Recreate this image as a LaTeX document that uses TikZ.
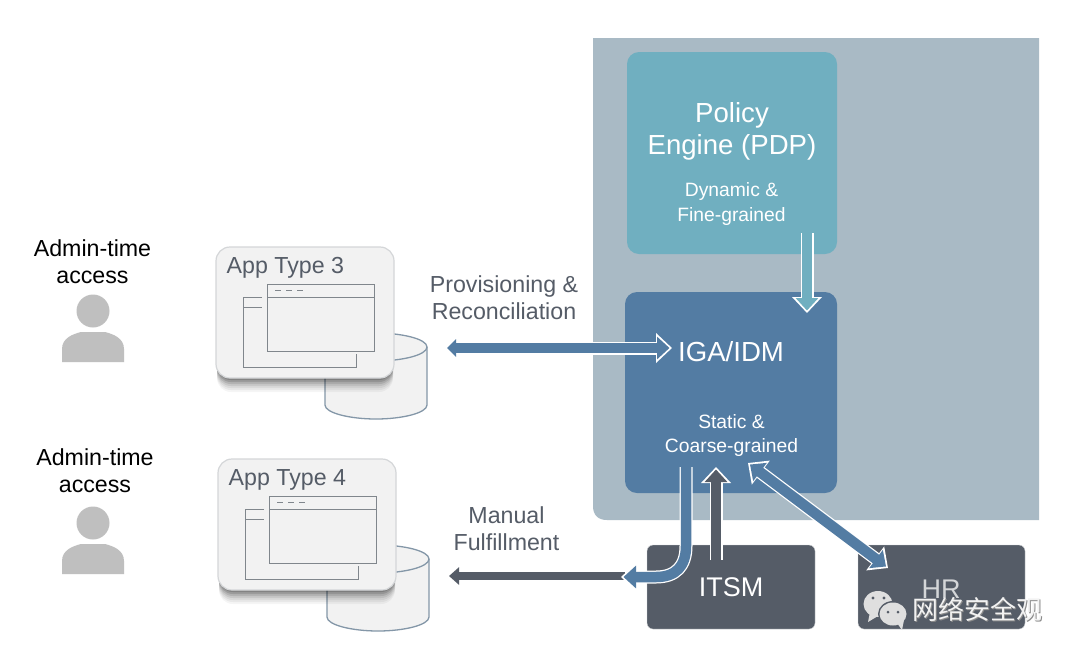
\documentclass[tikz,border=0pt]{standalone}
\usepackage{fontspec}
\setmainfont{Liberation Sans}
\newfontfamily\cjkwm{Noto Sans CJK SC}
\usetikzlibrary{arrows.meta}
\definecolor{panelgrey}{HTML}{A9BAC5}
\definecolor{pdpteal}{HTML}{70AFC0}
\definecolor{igablue}{HTML}{537CA3}
\definecolor{slate}{HTML}{555C67}
\definecolor{cardfill}{HTML}{F2F2F2}
\definecolor{cardline}{HTML}{D4D6D8}
\definecolor{wireline}{HTML}{80868C}
\definecolor{cylline}{HTML}{8497A8}
\definecolor{persongrey}{HTML}{BFBFBF}
\tikzset{
  box/.style={rectangle,rounded corners=#1,inner sep=0pt,anchor=north west,outer sep=0pt},
  box/.default=12pt,
  halo/.style={white,line width=13pt},
  core/.style={line width=10.5pt,shorten >=2.5pt},
  corer/.style={line width=10.5pt,shorten >=2.5pt,shorten <=2.5pt},
  lbl/.style={font=\fontsize{23.2}{27}\selectfont,align=center,inner sep=0pt},
  sublbl/.style={font=\fontsize{19.3}{24.5}\selectfont,align=center,inner sep=0pt,text=white},
  title/.style={font=\fontsize{27.6}{32}\selectfont,align=center,inner sep=0pt,text=white},
  wire/.style={draw=wireline,line width=1pt},
  bighead/.style={-{Triangle[length=16pt,width=29pt]}},
  smallhead/.style={-{Triangle[length=12.5pt,width=22pt]}},
}
\newcommand{\person}[2]{%
  \fill[persongrey] (#1,#2) circle[radius=16.5pt];
  \fill[persongrey] (#1-31,#2+51) -- (#1-31,#2+38)
    .. controls (#1-31,#2+27) and (#1-20,#2+23) .. (#1-12,#2+21)
    -- (#1+12,#2+21)
    .. controls (#1+20,#2+23) and (#1+31,#2+27) .. (#1+31,#2+38)
    -- (#1+31,#2+51) -- cycle;}
\newcommand{\appcard}[3]{%
  \begin{scope}[shift={(#1,#2)}]
    % cylinder
    \path[fill=cardfill,draw=cylline,line width=1.3pt]
      (325,347) -- (325,405) .. controls (325,413) and (350,419) .. (376,419)
      .. controls (402,419) and (427,413) .. (427,405) -- (427,347)
      .. controls (427,339) and (402,333) .. (376,333)
      .. controls (350,333) and (325,339) .. (325,347) -- cycle;
    \draw[cylline,line width=1.3pt] (427,347) .. controls (427,355) and (402,361) .. (376,361);
    % shadow
    \foreach \o/\a in {14/.04,12/.05,10/.06,8/.08,6/.1,4/.13,2/.15}
      \fill[black,opacity=\a,rounded corners=14pt] (217,247+\o) rectangle (393,378+\o);
    % card
    \path[box=14pt,fill=cardfill,draw=cardline,line width=1.2pt] (216,247) rectangle (394,378);
    % wire windows
    \draw[wire] (262,297) -- (243,297) -- (243,367) -- (356,367) -- (356,354);
    \draw[wire] (243,307) -- (262,307);
    \draw[wire] (267,284) rectangle (374,351);
    \draw[wire] (267,297) -- (374,297);
    \draw[wire,dash pattern=on 6pt off 5pt] (275,290) -- (307,290);
    \node[lbl,text=slate,anchor=west] (#3) at (226.5,268) {App Type #3};
  \end{scope}}
\begin{document}
\begin{tikzpicture}[x=1pt,y=-1pt]
\useasboundingbox (0,0) rectangle (1076,657);
\fill[white] (0,0) rectangle (1076,657);
% big panel
\fill[panelgrey] (593,38) -- (1039,38) -- (1039,520) -- (607,520)
  .. controls (598,520) and (593,515) .. (593,506) -- cycle;
% boxes
\node[box,fill=pdpteal,minimum width=210pt,minimum height=202pt] (pdp) at (627,52) {};
\node[box,fill=igablue,minimum width=212pt,minimum height=201pt] (iga) at (625,292) {};
\node[box=6pt,fill=slate,draw=cardline,line width=.4pt,minimum width=168pt,minimum height=84pt] (itsm) at (647,545) {};
\node[box=6pt,fill=slate,draw=cardline,line width=.4pt,minimum width=167pt,minimum height=84pt] (hr) at (858,545) {};
% app cards
\appcard{0}{0}{3}
\appcard{2}{212}{4}
% persons
\node[lbl] (admin1) at (92.5,261.5) {Admin-time\\access};
\node[lbl] (admin2) at (95,470.5) {Admin-time\\access};
\person{93}{311}
\person{93}{523}
% labels
\node[lbl,text=slate] (prov) at (504,298) {Provisioning \&\\Reconciliation};
\node[lbl,text=slate] (manual) at (506.5,529) {Manual\\Fulfillment};
\node[title] (pdpt) at (732,131.5) {Policy\\Engine (PDP)};
\node[sublbl] (pdps) at (731.5,204) {Dynamic \&\\Fine-grained};
\node[title] (igat) at (731,352) {IGA/IDM};
\node[sublbl] (igas) at (731.5,435.5) {Static \&\\Coarse-grained};
\node[title,font=\fontsize{27}{30}\selectfont] (itsmt) at (731,587.5) {ITSM};
\node[title,font=\fontsize{27}{30}\selectfont,text=cardline] (hrt) at (941,589) {HR};
% connector end points
\coordinate (pdpA) at (807,233);
\coordinate (igaA) at (807,313);
\coordinate (provL) at (447,348);
\coordinate (provR) at (672,348);
\coordinate (downA) at (686,467);
\coordinate (downB) at (621,577);
\coordinate (manA) at (625,576);
\coordinate (manB) at (449,576);
\coordinate (upA) at (716,560);
\coordinate (upB) at (716,467);
\coordinate (hrA) at (748,463);
\coordinate (hrB) at (888,568);
% manual
\draw[slate,line width=8pt,-{Triangle[length=10pt,width=17pt]}] (manA) -- (manB);
% up from ITSM
\draw[halo,bighead] (upA) -- (upB);
\draw[slate,core,smallhead] (upA) -- (upB);
% IGA to manual bend
\draw[halo,bighead] (downA) -- (686,546) .. controls (686,566) and (676,577) .. (656,577) -- (downB);
\draw[igablue,core,smallhead] (downA) -- (686,546) .. controls (686,566) and (676,577) .. (656,577) -- (downB);
% HR double
\draw[halo,{Triangle[length=16pt,width=29pt]}-{Triangle[length=16pt,width=29pt]}] (hrA) -- (hrB);
\draw[igablue,corer,{Triangle[length=12.5pt,width=22pt]}-{Triangle[length=12.5pt,width=22pt]}] (hrA) -- (hrB);
% provisioning
\draw[white,line width=13pt,-{Triangle[length=16pt,width=29pt]}] (provL) -- (provR);
\draw[igablue,line width=10.5pt,shorten >=2.5pt,{Triangle[length=9pt,width=17pt]}-{Triangle[length=12.5pt,width=22pt]}] (provL) -- (provR);
% pdp to iga
\draw[halo,bighead] (pdpA) -- (igaA);
\draw[pdpteal,core,smallhead] (pdpA) -- (igaA);
% watermark
\begin{scope}
  \fill[cardfill!92!black] (878,604) ellipse[x radius=14.5pt,y radius=13pt];
  \fill[cardfill!92!black] (870,612) -- (868,622) -- (878,616) -- cycle;
  \fill[slate] (893,614) ellipse[x radius=15pt,y radius=13pt];
  \fill[cardfill!92!black] (893,614) ellipse[x radius=13.5pt,y radius=11.5pt];
  \fill[cardfill!92!black] (897,623) -- (902,630) -- (904,620) -- cycle;
  \fill[slate] (873,598) circle[radius=1.7pt] (884,598) circle[radius=1.7pt]
    (888,612) circle[radius=1.5pt] (898,612) circle[radius=1.5pt];
  \node[font=\cjkwm\fontsize{26}{26}\selectfont,text=black!45,inner sep=0pt] at (978,610.5) {网络安全观};
  \node[font=\cjkwm\fontsize{26}{26}\selectfont,text=cardfill,inner sep=0pt] (wm) at (977,609.5) {网络安全观};
\end{scope}
\end{tikzpicture}
\end{document}
